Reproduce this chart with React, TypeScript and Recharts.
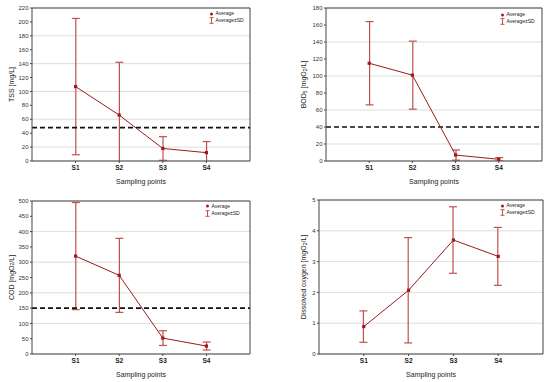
import React from 'react';
import { ComposedChart, Line, Bar, XAxis, YAxis, CartesianGrid, ReferenceLine } from 'recharts';

const categories = ['S1', 'S2', 'S3', 'S4'];
const positions = [1, 2, 3, 4];

const tssMean = [107, 66, 18, 12];
const tssSd = [98, 76, 17, 16];
const tssTicks = [0, 20, 40, 60, 80, 100, 120, 140, 160, 180, 200, 220];
const tssLimit = 48;

const bodMean = [115, 101, 7, 2];
const bodSd = [49, 40, 6, 2];
const bodTicks = [0, 20, 40, 60, 80, 100, 120, 140, 160, 180];
const bodLimit = 40;

const codMean = [320, 257, 52, 26];
const codSd = [175, 121, 24, 13];
const codTicks = [0, 50, 100, 150, 200, 250, 300, 350, 400, 450, 500];
const codLimit = 150;

const doMean = [0.89, 2.07, 3.7, 3.17];
const doSd = [0.51, 1.71, 1.08, 0.94];
const doTicks = [0, 1, 2, 3, 4, 5];

const xLabel = 'Sampling points';
const legendAvg = 'Average';
const legendSd = 'Average±SD';

const FONT = '"Liberation Sans", Arial, sans-serif';
const LINE_COLOR = '#9e1a1a';
const ERR_COLOR = '#c0504d';
const AXIS_COLOR = '#444';

type LabelPart = { t: string; sub?: boolean };

const tssLabel: LabelPart[] = [{ t: 'TSS [mg/L]' }];
const bodLabel: LabelPart[] = [{ t: 'BOD' }, { t: '5', sub: true }, { t: ' [mgO' }, { t: '2', sub: true }, { t: '/L]' }];
const codLabel: LabelPart[] = [{ t: 'COD [mgO' }, { t: '2', sub: true }, { t: '/L]' }];
const doLabel: LabelPart[] = [{ t: 'Dissolved oxygen [mgO' }, { t: '2', sub: true }, { t: '/L]' }];

function buildData(mean: number[], sd: number[]) {
  return positions.map((p, i) => {
    const low = mean[i] - sd[i];
    const high = mean[i] + sd[i];
    return {
      x: p,
      name: categories[i],
      mean: mean[i],
      range: [Math.max(low, 0), high],
      clipped: low < 0,
    };
  });
}

type PanelProps = {
  left: number;
  top: number;
  margin: { top: number; right: number; bottom: number; left: number };
  yWidth: number;
  xHeight: number;
  ticks: number[];
  mean: number[];
  sd: number[];
  limit?: number;
  label: LabelPart[];
  labelX: number;
  legendLeft: number;
  legendTop: number;
};

const Dot = (props: any) => {
  const { cx, cy } = props;
  if (cx == null || cy == null) return null;
  return <rect x={cx - 1.6} y={cy - 1.6} width={3.2} height={3.2} fill={LINE_COLOR} />;
};

const ErrShape = (props: any) => {
  const { x, y, width, height, payload } = props;
  if (x == null || y == null) return null;
  const cx = x + width / 2;
  const top = Math.min(y, y + height);
  const bottom = Math.max(y, y + height);
  const hw = 4;
  return (
    <g stroke={ERR_COLOR} strokeWidth={1.2} fill="none">
      <line x1={cx} y1={top} x2={cx} y2={bottom} />
      <line x1={cx - hw} y1={top} x2={cx + hw} y2={top} />
      {!payload?.clipped && <line x1={cx - hw} y1={bottom} x2={cx + hw} y2={bottom} />}
    </g>
  );
};

function Panel(p: PanelProps) {
  const data = buildData(p.mean, p.sd);
  const W = 275;
  const H = 191;
  const yMax = p.ticks[p.ticks.length - 1];
  const plotTop = p.margin.top;
  const plotBottom = H - p.margin.bottom - p.xHeight;
  const plotLeft = p.margin.left + p.yWidth;
  const plotRight = W - p.margin.right;

  const yLabelContent = () => {
    const cy = (plotTop + plotBottom) / 2;
    return (
      <text
        x={p.labelX}
        y={cy}
        transform={`rotate(-90, ${p.labelX}, ${cy})`}
        textAnchor="middle"
        dominantBaseline="central"
        fontSize={7}
        fill="#222"
        fontFamily={FONT}
      >
        {p.label.map((part, i) => {
          const prevSub = i > 0 && p.label[i - 1].sub;
          let dy = 0;
          if (part.sub) dy = 1.8;
          else if (prevSub) dy = -1.8;
          return (
            <tspan key={i} dy={dy} fontSize={part.sub ? 5 : 7}>
              {part.t}
            </tspan>
          );
        })}
      </text>
    );
  };

  const xLabelContent = () => (
    <text
      x={(plotLeft + plotRight) / 2}
      y={plotBottom + 22.5}
      textAnchor="middle"
      fontSize={7}
      fill="#222"
      fontFamily={FONT}
    >
      {xLabel}
    </text>
  );

  return (
    <div style={{ position: 'absolute', left: p.left, top: p.top, width: W, height: H }}>
      <ComposedChart width={W} height={H} data={data} margin={p.margin}>
        <CartesianGrid vertical={false} stroke="#d4d4d4" strokeWidth={0.8} />
        <XAxis
          dataKey="x"
          type="number"
          domain={[0, 5]}
          ticks={positions}
          tickFormatter={(v: number) => categories[v - 1]}
          height={p.xHeight}
          axisLine={{ stroke: AXIS_COLOR, strokeWidth: 1 }}
          tickLine={{ stroke: AXIS_COLOR }}
          tickSize={2}
          tickMargin={2}
          tick={{ fontSize: 6.5, fontWeight: 'bold', fill: '#222', fontFamily: FONT }}
          label={{ content: xLabelContent }}
        />
        <YAxis
          type="number"
          domain={[0, yMax]}
          ticks={p.ticks}
          allowDataOverflow
          width={p.yWidth}
          axisLine={{ stroke: AXIS_COLOR, strokeWidth: 1 }}
          tickLine={{ stroke: AXIS_COLOR }}
          tickSize={2}
          tickMargin={1.5}
          tick={{ fontSize: 6, fill: '#333', fontFamily: FONT }}
          label={{ content: yLabelContent }}
        />
        <ReferenceLine x={5} stroke={AXIS_COLOR} strokeWidth={1} ifOverflow="visible" />
        <ReferenceLine y={yMax} stroke={AXIS_COLOR} strokeWidth={1} ifOverflow="visible" />
        {p.limit !== undefined && (
          <ReferenceLine y={p.limit} stroke="#111" strokeWidth={1.7} strokeDasharray="5 3" />
        )}
        <Bar
          dataKey="range"
          barSize={8}
          shape={<ErrShape />}
          activeBar={false}
          isAnimationActive={false}
        />
        <Line
          dataKey="mean"
          stroke={LINE_COLOR}
          strokeWidth={1}
          dot={<Dot />}
          activeDot={false}
          isAnimationActive={false}
        />
      </ComposedChart>
      <div
        style={{
          position: 'absolute',
          left: p.legendLeft,
          top: p.legendTop,
          fontFamily: FONT,
          fontSize: 5,
          color: '#222',
          lineHeight: '7px',
          whiteSpace: 'nowrap',
        }}
      >
        <div style={{ display: 'flex', alignItems: 'center' }}>
          <svg width={5} height={6} style={{ marginRight: 1.5 }}>
            <circle cx={2.5} cy={3} r={1.5} fill={LINE_COLOR} />
          </svg>
          <span>{legendAvg}</span>
        </div>
        <div style={{ display: 'flex', alignItems: 'center' }}>
          <svg width={5} height={7} style={{ marginRight: 1.5 }}>
            <line x1={2.5} y1={0.7} x2={2.5} y2={6.3} stroke={ERR_COLOR} strokeWidth={1} />
            <line x1={0.5} y1={0.7} x2={4.5} y2={0.7} stroke={ERR_COLOR} strokeWidth={1} />
            <line x1={0.5} y1={6.3} x2={4.5} y2={6.3} stroke={ERR_COLOR} strokeWidth={1} />
          </svg>
          <span>{legendSd}</span>
        </div>
      </div>
    </div>
  );
}

export default function App() {
  return (
    <div style={{ position: 'absolute', left: 0, top: 0, width: 550, height: 382, background: '#fff' }}>
      <Panel
        left={0}
        top={0}
        margin={{ top: 8, right: 25, bottom: 0, left: 0 }}
        yWidth={32}
        xHeight={30}
        ticks={tssTicks}
        mean={tssMean}
        sd={tssSd}
        limit={tssLimit}
        label={tssLabel}
        labelX={10.5}
        legendLeft={209}
        legendTop={10}
      />
      <Panel
        left={275}
        top={0}
        margin={{ top: 8, right: 8, bottom: 0, left: 0 }}
        yWidth={51}
        xHeight={30}
        ticks={bodTicks}
        mean={bodMean}
        sd={bodSd}
        limit={bodLimit}
        label={bodLabel}
        labelX={28}
        legendLeft={225}
        legendTop={11}
      />
      <Panel
        left={0}
        top={191}
        margin={{ top: 10, right: 25, bottom: 0, left: 0 }}
        yWidth={32}
        xHeight={28}
        ticks={codTicks}
        mean={codMean}
        sd={codSd}
        limit={codLimit}
        label={codLabel}
        labelX={10.5}
        legendLeft={205}
        legendTop={11.5}
      />
      <Panel
        left={275}
        top={191}
        margin={{ top: 9, right: 7, bottom: 0, left: 0 }}
        yWidth={44}
        xHeight={28}
        ticks={doTicks}
        mean={doMean}
        sd={doSd}
        label={doLabel}
        labelX={28}
        legendLeft={225}
        legendTop={11}
      />
    </div>
  );
}
